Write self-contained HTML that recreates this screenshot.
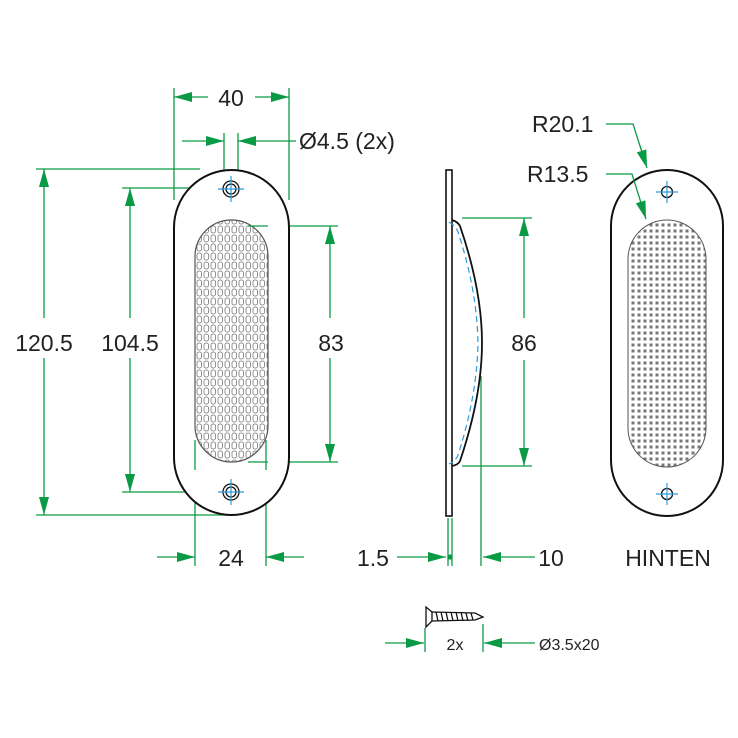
<!DOCTYPE html>
<html><head><meta charset="utf-8"><style>
html,body{margin:0;padding:0;background:#fff}
svg{display:block}
text{font-family:"Liberation Sans",Arial,sans-serif;fill:#222}
</style></head><body>
<svg width="738" height="738" viewBox="0 0 738 738" xmlns="http://www.w3.org/2000/svg">
<defs>
<marker id="a" markerUnits="userSpaceOnUse" markerWidth="20" markerHeight="12" refX="18" refY="5" orient="auto">
<path d="M0,0 L18,5 L0,10 Z" fill="#0a9a45"/>
</marker>
<pattern id="p1" width="7" height="9" patternUnits="userSpaceOnUse">
<rect x="1" y="1" width="4.5" height="7" rx="2" fill="#fff" stroke="#777" stroke-width="0.8"/>
</pattern>
<pattern id="p2" width="6" height="6" patternUnits="userSpaceOnUse">
<rect x="1.5" y="1.5" width="3" height="3" fill="#777"/>
</pattern>
</defs>
<g fill="none" stroke="#0a9a45" stroke-width="1.3">
<line x1="174" y1="88" x2="174" y2="200"/>
<line x1="289" y1="88" x2="289" y2="200"/>
<line x1="208" y1="97" x2="174" y2="97" marker-end="url(#a)"/>
<line x1="255" y1="97" x2="289" y2="97" marker-end="url(#a)"/>
<line x1="224" y1="133" x2="224" y2="182"/>
<line x1="238" y1="133" x2="238" y2="182"/>
<line x1="182" y1="141" x2="224" y2="141" marker-end="url(#a)"/>
<line x1="296" y1="141" x2="238" y2="141" marker-end="url(#a)"/>
<line x1="36" y1="169" x2="200" y2="169"/>
<line x1="36" y1="515" x2="230" y2="515"/>
<line x1="44" y1="318" x2="44" y2="169" marker-end="url(#a)"/>
<line x1="44" y1="358" x2="44" y2="515" marker-end="url(#a)"/>
<line x1="122" y1="188" x2="215" y2="188"/>
<line x1="122" y1="492" x2="215" y2="492"/>
<line x1="130" y1="318" x2="130" y2="188" marker-end="url(#a)"/>
<line x1="130" y1="358" x2="130" y2="492" marker-end="url(#a)"/>
<line x1="248" y1="226" x2="338" y2="226"/>
<line x1="248" y1="462" x2="338" y2="462"/>
<line x1="330" y1="318" x2="330" y2="226" marker-end="url(#a)"/>
<line x1="330" y1="358" x2="330" y2="462" marker-end="url(#a)"/>
<line x1="195" y1="440" x2="195" y2="566"/>
<line x1="266" y1="440" x2="266" y2="566"/>
<line x1="157" y1="557" x2="195" y2="557" marker-end="url(#a)"/>
<line x1="304" y1="557" x2="266" y2="557" marker-end="url(#a)"/>
<line x1="462" y1="218" x2="532" y2="218"/>
<line x1="462" y1="466" x2="532" y2="466"/>
<line x1="524" y1="318" x2="524" y2="218" marker-end="url(#a)"/>
<line x1="524" y1="360" x2="524" y2="466" marker-end="url(#a)"/>
<line x1="448" y1="518" x2="448" y2="566"/>
<line x1="452" y1="518" x2="452" y2="566"/>
<line x1="481" y1="376" x2="481" y2="566"/>
<line x1="397" y1="557" x2="446" y2="557" marker-end="url(#a)"/>
<line x1="535" y1="557" x2="483" y2="557" marker-end="url(#a)"/>
<circle cx="450" cy="557" r="2" fill="#0a9a45"/>
<line x1="425" y1="628" x2="425" y2="652"/>
<line x1="483" y1="624" x2="483" y2="652"/>
<line x1="385" y1="643" x2="424" y2="643" marker-end="url(#a)"/>
<line x1="535" y1="643" x2="484" y2="643" marker-end="url(#a)"/>
</g>
<!-- front view -->
<rect x="174" y="170" width="115" height="345" rx="57.5" fill="#fff" stroke="#111" stroke-width="2"/>
<rect x="195" y="220" width="73" height="242" rx="36.5" fill="url(#p1)" stroke="#555" stroke-width="1.2"/>
<line x1="248" y1="226" x2="268" y2="226" stroke="#0a9a45" stroke-width="1.3"/>
<line x1="248" y1="462" x2="268" y2="462" stroke="#0a9a45" stroke-width="1.3"/>
<line x1="195" y1="440" x2="195" y2="470" stroke="#0a9a45" stroke-width="1.3"/>
<line x1="266" y1="440" x2="266" y2="470" stroke="#0a9a45" stroke-width="1.3"/>
<g stroke="#111" fill="none" stroke-width="1.3">
<circle cx="231" cy="189" r="8"/><circle cx="231" cy="189" r="5"/>
<circle cx="231" cy="492" r="8"/><circle cx="231" cy="492" r="5"/>
</g>
<g stroke="#2a9bde" stroke-width="1.2">
<line x1="218" y1="189" x2="244" y2="189"/><line x1="231" y1="176" x2="231" y2="202"/>
<line x1="218" y1="492" x2="244" y2="492"/><line x1="231" y1="479" x2="231" y2="505"/>
</g>
<!-- side view -->
<rect x="446" y="170" width="6" height="346" fill="#fff" stroke="#111" stroke-width="1.6"/>
<path d="M452,220 Q458,222 460,226 Q482,290 482,343 Q482,396 460,461 Q458,465 452,466" fill="none" stroke="#111" stroke-width="1.8"/>
<path d="M449,222 Q456,226 458,232 Q477,290 478,343 Q477,396 458,455 Q456,461 449,464" fill="none" stroke="#2a9bde" stroke-width="1.2" stroke-dasharray="6,4"/>
<!-- back view -->
<rect x="611" y="170" width="112" height="346" rx="56" fill="#fff" stroke="#111" stroke-width="2"/>
<rect x="628" y="220" width="78" height="247" rx="39" fill="url(#p2)" stroke="#555" stroke-width="1"/>
<g stroke="#111" fill="none" stroke-width="1.3">
<circle cx="667" cy="192" r="5.5"/><circle cx="667" cy="494" r="5.5"/>
</g>
<g stroke="#2a9bde" stroke-width="1.2">
<line x1="656" y1="192" x2="678" y2="192"/><line x1="667" y1="181" x2="667" y2="203"/>
<line x1="656" y1="494" x2="678" y2="494"/><line x1="667" y1="483" x2="667" y2="505"/>
</g>
<g fill="none" stroke="#0a9a45" stroke-width="1.3">
<polyline points="606,124 633,124 647,168" marker-end="url(#a)"/>
<polyline points="606,174 632,174 646,219" marker-end="url(#a)"/>
</g>
<!-- screw -->
<g stroke="#111" stroke-width="1.3" fill="none">
<path d="M426,607 L426,627 L432,621 L432,612 Z"/>
<path d="M432,612 L475,613 L483,617 L475,620 L432,621"/>
<path d="M436,612 l2,9 M441,612 l2,9 M446,612 l2,9 M451,612 l2,9 M456,612 l2,9 M461,612 l2,9 M466,613 l2,8 M471,613 l2,7"/>
</g>
<g font-size="23">
<text x="231" y="106" text-anchor="middle">40</text>
<text x="299" y="149">Ø4.5 (2x)</text>
<text x="44" y="351" text-anchor="middle">120.5</text>
<text x="130" y="351" text-anchor="middle">104.5</text>
<text x="331" y="351" text-anchor="middle">83</text>
<text x="524" y="351" text-anchor="middle">86</text>
<text x="231" y="566" text-anchor="middle">24</text>
<text x="373" y="566" text-anchor="middle">1.5</text>
<text x="551" y="566" text-anchor="middle">10</text>
<text x="532" y="132">R20.1</text>
<text x="527" y="182">R13.5</text>
<text x="668" y="566" text-anchor="middle">HINTEN</text>
</g>
<text x="455" y="650" font-size="16" text-anchor="middle">2x</text>
<text x="539" y="650" font-size="16">Ø3.5x20</text>
</svg>
</body></html>
